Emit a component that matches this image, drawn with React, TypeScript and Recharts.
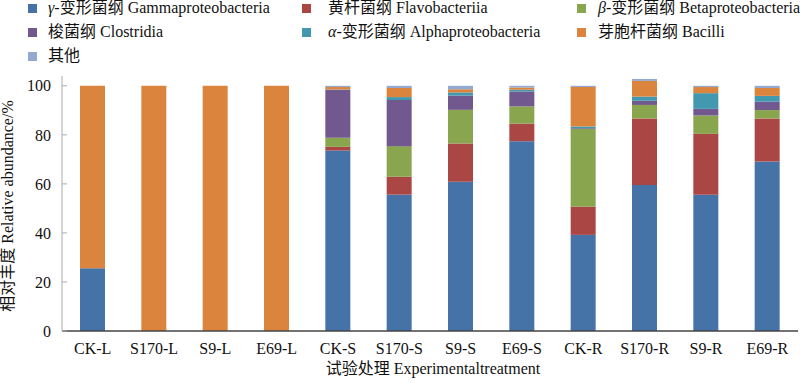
import React from "react";
import { BarChart, Bar, XAxis, YAxis } from "recharts";

const categories = ["CK-L", "S170-L", "S9-L", "E69-L", "CK-S", "S170-S", "S9-S", "E69-S", "CK-R", "S170-R", "S9-R", "E69-R"];

const gamma = [25.6, 0, 0, 0, 73.6, 55.6, 60.9, 77.4, 39.2, 59.5, 55.6, 69.1];
const flavo = [0, 0, 0, 0, 1.5, 7.3, 15.6, 7.2, 11.5, 27.2, 24.8, 17.6];
const beta = [0, 0, 0, 0, 3.7, 12.5, 13.7, 7.0, 31.7, 5.5, 7.5, 3.4];
const clostridia = [0, 0, 0, 0, 19.6, 18.8, 5.8, 6.1, 0.3, 1.7, 2.7, 3.4];
const alpha = [0, 0, 0, 0, 0.1, 1.2, 1.3, 0.7, 0.7, 1.7, 6.4, 2.4];
const bacilli = [74.4, 100, 100, 100, 1.0, 3.7, 1.3, 0.9, 16.1, 6.4, 2.5, 3.2];
const others = [0, 0, 0, 0, 0.5, 0.9, 1.4, 0.7, 0.5, 0.8, 0.5, 0.9];

const yTicks = [0, 20, 40, 60, 80, 100];

const series = [
  { key: "gamma", greek: "γ", zh: "-变形菌纲", en: "Gammaproteobacteria", values: gamma, color: "#4572A7" },
  { key: "flavo", greek: "", zh: "黄杆菌纲", en: "Flavobacteriia", values: flavo, color: "#AA4643" },
  { key: "beta", greek: "β", zh: "-变形菌纲", en: "Betaproteobacteria", values: beta, color: "#89A54E" },
  { key: "clostridia", greek: "", zh: "梭菌纲", en: "Clostridia", values: clostridia, color: "#71588F" },
  { key: "alpha", greek: "α", zh: "-变形菌纲", en: "Alphaproteobacteria", values: alpha, color: "#4198AF" },
  { key: "bacilli", greek: "", zh: "芽胞杆菌纲", en: "Bacilli", values: bacilli, color: "#DB843D" },
  { key: "others", greek: "", zh: "其他", en: "", values: others, color: "#93A9CF" },
];

const data = categories.map((name, i) => {
  const row: Record<string, any> = { name };
  series.forEach((s) => {
    row[s.key] = s.values[i];
  });
  return row;
});

const FONT = '"Liberation Serif", "Times New Roman", "Noto Sans CJK SC", serif';

const legendCols = [
  { marker: 28, text: 48 },
  { marker: 302, text: 328 },
  { marker: 577, text: 598 },
];
const legendRows = [8, 32, 56];

export default function App() {
  return (
    <div style={{ position: "absolute", left: 0, top: 0, width: 800, height: 383, background: "#fff", fontFamily: FONT }}>
      <BarChart
        width={800}
        height={383}
        data={data}
        margin={{ top: 76, right: 2, bottom: 22, left: 2 }}
        barSize={25}
      >
        <XAxis
          dataKey="name"
          axisLine={{ stroke: "#444", strokeWidth: 1.5 }}
          tickLine={false}
          tickSize={0}
          tickMargin={12}
          interval={0}
          tick={{ fill: "#111", fontSize: 16, fontFamily: FONT }}
          label={{
            content: () => (
              <text x={433} y={374} textAnchor="middle" fontSize={16} fontFamily={FONT} fill="#111">
                试验处理 Experimentaltreatment
              </text>
            ),
          }}
        />
        <YAxis
          type="number"
          domain={[0, 104]}
          ticks={yTicks}
          width={60}
          axisLine={{ stroke: "#aaa", strokeWidth: 1 }}
          tickLine={{ stroke: "#aaa" }}
          tickSize={-5}
          tickMargin={16}
          tick={{ fill: "#111", fontSize: 16, fontFamily: FONT }}
          label={{
            content: () => (
              <text
                x={13}
                y={206}
                transform="rotate(-90 13 206)"
                textAnchor="middle"
                fontSize={16}
                fontFamily={FONT}
                fill="#111"
              >
                相对丰度 Relative abundance/%
              </text>
            ),
          }}
        />
        {series.map((s) => (
          <Bar key={s.key} dataKey={s.key} stackId="a" fill={s.color} isAnimationActive={false} />
        ))}
      </BarChart>
      {series.map((s, i) => {
        const col = legendCols[i % 3];
        const rowY = legendRows[Math.floor(i / 3)];
        return (
          <React.Fragment key={s.key}>
            <div
              style={{
                position: "absolute",
                left: col.marker,
                top: rowY - 4.5,
                width: 9,
                height: 9,
                background: s.color,
              }}
            />
            <div
              style={{
                position: "absolute",
                left: col.text,
                top: rowY - 10,
                height: 20,
                lineHeight: "20px",
                fontSize: 16,
                color: "#111",
                whiteSpace: "nowrap",
                fontFamily: FONT,
              }}
            >
              {s.greek ? <i>{s.greek}</i> : null}
              {s.zh}
              {s.en ? " " + s.en : ""}
            </div>
          </React.Fragment>
        );
      })}
    </div>
  );
}
